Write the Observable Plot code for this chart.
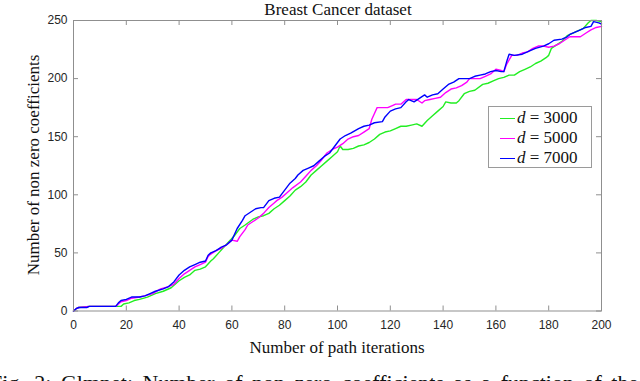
<!DOCTYPE html>
<html>
<head>
<meta charset="utf-8">
<script src="https://cdn.jsdelivr.net/npm/d3@7"></script>
<script src="https://cdn.jsdelivr.net/npm/@observablehq/plot@0.6"></script>
<style>
  html, body { margin: 0; padding: 0; background: #fff; }
  body { width: 640px; height: 381px; overflow: hidden; position: relative; }
  #chart { position: absolute; left: 0; top: 0; }
  .serif { font-family: "Liberation Serif", "Times New Roman", serif; color: #111; }
  #title { position: absolute; left: 338px; top: 0px; transform: translateX(-50%); font-size: 17px; white-space: nowrap; line-height: 20px; }
  #xlabel { position: absolute; left: 337px; top: 338px; transform: translateX(-50%); font-size: 17px; white-space: nowrap; line-height: 20px; }
  #ylabel { position: absolute; left: 34px; top: 165px; transform: translate(-50%, -50%) rotate(-90deg); font-size: 17px; white-space: nowrap; line-height: 20px; }
  #legend { position: absolute; left: 488px; top: 106px; width: 102px; height: 59px; border: 1px solid #9a9a9a; background: #fff; padding-top: 1px; }
  .item { display: flex; align-items: center; height: 20px; font-size: 17px; }
  .sw { width: 15px; height: 0; border-top: 1.5px solid; margin-left: 11px; margin-right: 2px; }
  #caption { position: absolute; left: -10px; top: 372px; font-size: 22px; line-height: 22px; white-space: nowrap; word-spacing: 4px; }
</style>
</head>
<body>
<div id="chart"></div>
<div id="title" class="serif">Breast Cancer dataset</div>
<div id="xlabel" class="serif">Number of path iterations</div>
<div id="ylabel" class="serif">Number of non zero coefficients</div>
<div id="legend" class="serif"></div>
<div id="caption" class="serif">Fig. 2: Glmnet: Number of non zero coefficients as a function of the</div>
<script>
// ---- data ----
const seriesNames = ["d = 3000", "d = 5000", "d = 7000"];
const seriesColors = ["#22ee22", "#ff00ff", "#0000ff"];
const xTicks = [0, 20, 40, 60, 80, 100, 120, 140, 160, 180, 200];
const yTicks = [0, 50, 100, 150, 200, 250];

const iterD3000 = [0,1,2,6,16,18,19,21,23,25,28,31,34,37,40,42,44,46,48,50,52,53,55,57,59,61,63,65,68,70,72,74,76,78,80,82,84,86,88,90,92,94,96,98,100,101,102,104,106,108,110,112,114,116,118,120,122,124,126,128,130,132,134,136,138,140,141,143,145,146,148,150,152,155,157,159,161,163,165,167,169,171,173,175,177,179,180,181,183,185,187,189,191,193,195,196,198,200];
const countD3000 = [0,2,3,4,4,4,6,7,9,10,12,15,17,20,26,29,31,35,36,38,43,45,50,55,60,65,71,74,79,81,82,84,88,91,95,99,104,107,111,117,121,125,129,133,137,142,139,139,140,142,143,145,148,152,154,155,157,159,159,160,161,159,164,168,172,176,180,179,179,181,187,189,190,195,196,198,200,201,203,203,206,208,210,213,215,218,220,226,229,232,237,239,241,243,248,250,250,249];

const iterD5000 = [0,1,2,6,16,17,18,20,22,25,27,30,33,36,38,40,42,44,46,48,50,51,52,54,56,58,60,62,63,65,66,68,70,72,74,76,77,79,81,83,86,88,90,92,94,96,98,100,102,104,106,108,110,112,113,114,115,117,119,121,122,124,126,128,130,132,133,135,137,139,141,143,145,147,149,150,152,154,156,158,160,162,163,164,166,168,170,172,174,176,178,180,182,184,186,188,190,192,194,196,198,200];
const countD5000 = [0,2,3,4,4,6,8,9,11,12,13,15,19,21,23,28,32,35,38,40,42,47,49,52,54,57,61,60,64,70,74,77,80,84,89,93,95,98,102,106,111,116,121,125,130,136,139,141,144,148,150,151,154,157,165,170,175,175,175,177,178,178,182,182,182,179,181,182,183,184,188,191,192,194,197,200,200,200,202,204,208,207,206,212,220,220,222,223,226,228,228,227,228,230,233,236,236,236,239,242,244,245];

const iterD7000 = [0,1,2,5,6,16,17,18,20,22,25,27,29,31,34,36,38,40,42,44,46,48,50,51,52,54,56,58,60,62,64,65,67,69,71,72,74,76,78,80,82,84,85,87,89,91,93,95,97,99,101,103,105,108,110,112,114,117,118,120,122,124,126,127,129,131,133,134,136,138,140,142,144,146,148,150,152,154,156,158,160,162,163,164,165,167,170,173,175,178,180,182,185,187,188,190,192,194,196,197,199,200];
const countD7000 = [0,2,3,3,4,4,7,9,10,12,12,13,15,17,19,21,25,31,35,38,40,42,43,48,50,52,55,57,61,71,78,82,85,88,89,89,95,97,98,104,110,114,117,121,123,125,129,133,136,142,148,151,153,157,159,160,162,163,167,172,174,175,180,182,180,183,186,184,186,187,191,195,197,200,200,200,202,203,204,206,207,206,206,214,221,220,221,224,226,228,230,233,234,236,238,240,242,244,245,249,248,247];

const iterArrays = [iterD3000, iterD5000, iterD7000];
const countArrays = [countD3000, countD5000, countD7000];
const table = seriesNames.flatMap((name, s) =>
  iterArrays[s].map((it, k) => ({series: name, iter: it, count: countArrays[s][k]})));

const W = 640, H = 360;
const mTop = 20, mBottom = 49.5, mLeft = 73, mRight = 39;
const frameW = W - mLeft - mRight, frameH = H - mTop - mBottom;
const tl = 5; // tick length px
const axisGray = "#8f8f8f";

const chart = Plot.plot({
  width: W, height: H,
  marginTop: mTop, marginBottom: mBottom, marginLeft: mLeft, marginRight: mRight,
  style: {fontFamily: "'Liberation Sans', Arial, sans-serif", fontSize: "12px", color: "#262626", background: "#fff"},
  x: {domain: [0, 200]},
  y: {domain: [0, 250]},
  color: {domain: seriesNames, range: seriesColors},
  marks: [
    Plot.axisX({ticks: xTicks, tickSize: 0, tickPadding: 9, label: null, tickFormat: d => d}),
    Plot.axisY({ticks: yTicks, tickSize: 0, tickPadding: 6, label: null, tickFormat: d => d}),
    Plot.tickX(xTicks, {x: d => d, stroke: axisGray, insetTop: frameH - tl}),
    Plot.tickX(xTicks, {x: d => d, stroke: axisGray, insetBottom: frameH - tl}),
    Plot.tickY(yTicks, {y: d => d, stroke: axisGray, insetRight: frameW - tl}),
    Plot.tickY(yTicks, {y: d => d, stroke: axisGray, insetLeft: frameW - tl}),
    Plot.line(table, {x: "iter", y: "count", z: "series", stroke: "series", strokeWidth: 1.4, curve: "linear"}),
    Plot.frame({stroke: axisGray, strokeWidth: 1})
  ]
});
document.getElementById("chart").appendChild(chart);

const legend = document.getElementById("legend");
seriesNames.forEach((name, i) => {
  const row = document.createElement("div");
  row.className = "item";
  const sw = document.createElement("span");
  sw.className = "sw";
  sw.style.borderTopColor = seriesColors[i];
  const lab = document.createElement("span");
  const parts = name.split(" = ");
  lab.innerHTML = "<i>" + parts[0] + "</i> = " + parts[1];
  row.appendChild(sw);
  row.appendChild(lab);
  legend.appendChild(row);
});
</script>
</body>
</html>
